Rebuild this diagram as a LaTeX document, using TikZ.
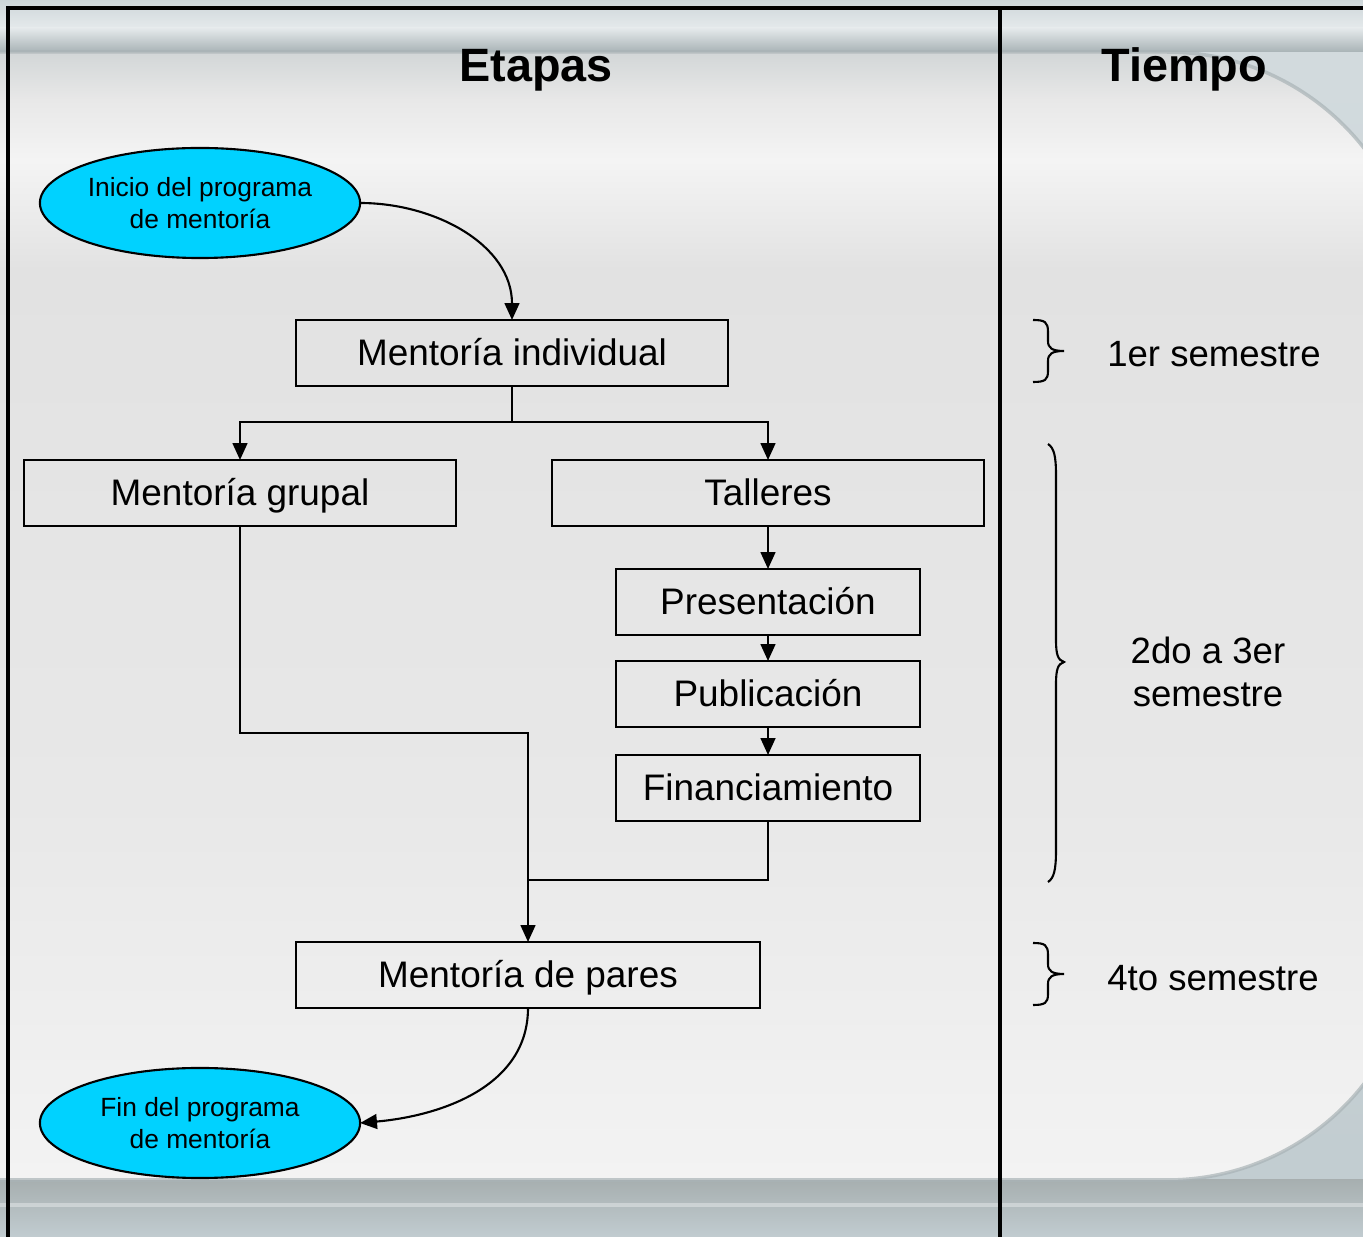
\documentclass[tikz,border=0pt]{standalone}
\usepackage{fontspec}
\setmainfont{Liberation Sans}
\usetikzlibrary{arrows.meta,shapes.geometric,positioning,calc}
\definecolor{cyanfill}{HTML}{00D2FF}
\definecolor{outerA}{HTML}{D3DBDE}
\definecolor{outerB}{HTML}{C1CCD0}
\definecolor{bandA}{HTML}{A7AFB0}
\definecolor{panelA}{HTML}{D2D6D7}
\definecolor{panelB}{HTML}{E8E8E8}
\definecolor{panelC}{HTML}{F4F4F4}
\definecolor{panelD}{HTML}{E2E2E2}
\definecolor{panelE}{HTML}{F3F3F3}
\definecolor{edgegray}{HTML}{A9B3B6}
\begin{document}
\begin{tikzpicture}[x=0.01cm,y=-0.01cm,
  every node/.style={inner sep=0pt,outer sep=0pt},
  stepbox/.style={draw=black,line width=0.6pt,rectangle,minimum height=0.66cm,text height=0.716em,text depth=0pt,font=\fontsize{10.5}{12.6}\selectfont},
  endell/.style={draw=black,line width=0.6pt,ellipse,fill=cyanfill,minimum width=3.2cm,minimum height=1.1cm,align=center,font=\fontsize{7.5}{9.1}\selectfont},
  titletxt/.style={font=\fontsize{13.3}{16}\selectfont\bfseries,anchor=base},
  timetxt/.style={font=\fontsize{10.4}{12}\selectfont,align=center},
  arr/.style={line width=0.6pt,-{Triangle[length=4.8pt,width=4.2pt]}},
  conn/.style={line width=0.6pt},
  bracestyle/.style={line width=0.6pt},
  frame/.style={line width=0.9pt,black}]
\useasboundingbox (0,0) rectangle (1363,1237);
% ---------- background ----------
\begin{scope}
\clip (0,0) rectangle (1363,1237);
\shade[top color=outerA,bottom color=outerB] (0,0) rectangle (1363,1237);
\shade[top color=outerB!80!white,bottom color=outerA!60!white] (0,0) rectangle (1363,28);
\shade[top color=outerA!60!white,bottom color=edgegray] (0,28) rectangle (1363,52);
\shade[top color=bandA,bottom color=outerB] (0,1180) rectangle (1363,1237);
\fill[white,opacity=0.35] (0,1203) rectangle (1363,1207);
\begin{scope}
\clip[rounded corners=2.5cm] (-300,52) rectangle (1417,1180);
\shade[top color=panelA,bottom color=panelB] (0,52) rectangle (1363,100);
\shade[top color=panelB,bottom color=panelC] (0,100) rectangle (1363,160);
\shade[top color=panelC,bottom color=panelD] (0,160) rectangle (1363,270);
\shade[top color=panelD,bottom color=panelB] (0,270) rectangle (1363,800);
\shade[top color=panelB,bottom color=panelE] (0,800) rectangle (1363,1180);
\end{scope}
\draw[edgegray,line width=1pt,opacity=0.7,rounded corners=2.5cm] (-300,52) rectangle (1417,1180);
\end{scope}
% ---------- frame ----------
\coordinate (fTL) at (8,8);
\coordinate (fTR) at (1363,8);
\coordinate (fBL) at (8,1237);
\coordinate (fMT) at (1000,8);
\coordinate (fMB) at (1000,1237);
\draw[frame] (fBL) -- (fTL) -- (fTR);
\draw[frame] (fMT) -- (fMB);
% ---------- titles ----------
\node[titletxt] (tEtapas) at (536,82) {Etapas};
\node[titletxt] (tTiempo) at (1184,82) {Tiempo};
% ---------- nodes ----------
\node[endell] (ini) at (200,203) {\rule{0pt}{1.2ex}Inicio del programa\\de mentoría};
\node[stepbox,minimum width=4.32cm] (mi) at (512,353) {Mentoría individual};
\node[stepbox,minimum width=4.32cm] (mg) at (240,493) {Mentoría grupal};
\node[stepbox,minimum width=4.32cm] (ta) at (768,493) {Talleres};
\node[stepbox,minimum width=3.04cm] (pr) at (768,602) {Presentación};
\node[stepbox,minimum width=3.04cm] (pu) at (768,694) {Publicación};
\node[stepbox,minimum width=3.04cm] (fi) at (768,788) {Financiamiento};
\node[stepbox,minimum width=4.64cm] (mp) at (528,975) {Mentoría de pares};
\node[endell] (fin) at (200,1123) {\rule{0pt}{1.2ex}Fin del programa\\de mentoría};
% ---------- connectors ----------
\coordinate (c1) at (0,733);
\coordinate (c2) at (0,880);
\draw[arr] (ini.east) to[out=0,in=90] (mi.north);
\draw[arr] (mi.south) -- ++(0,36) -| (mg.north);
\draw[arr] (mi.south) -- ++(0,36) -| (ta.north);
\draw[arr] (ta.south) -- (pr.north);
\draw[arr] (pr.south) -- (pu.north);
\draw[arr] (pu.south) -- (fi.north);
\draw[arr] (mg.south) -- (mg.south |- c1) -| (mp.north);
\draw[conn] (fi.south) |- (mp.north |- c2);
\draw[arr] (mp.south) to[out=-90,in=5] (fin.east);
% ---------- braces ----------
\draw[bracestyle] (1033,320) .. controls (1045,320) and (1048,322) .. (1048,332) -- (1048,341)
  .. controls (1048,348) and (1052,351) .. (1064,351)
  .. controls (1052,351) and (1048,354) .. (1048,361) -- (1048,371)
  .. controls (1048,380) and (1045,382) .. (1033,382);
\draw[bracestyle] (1048,444) .. controls (1054,448) and (1056,456) .. (1056,475) -- (1056,640)
  .. controls (1056,655) and (1058,660) .. (1064,662)
  .. controls (1058,664) and (1056,669) .. (1056,684) -- (1056,850)
  .. controls (1056,870) and (1054,878) .. (1048,882);
\draw[bracestyle] (1033,943) .. controls (1045,943) and (1048,945) .. (1048,955) -- (1048,964)
  .. controls (1048,971) and (1052,974) .. (1064,974)
  .. controls (1052,974) and (1048,977) .. (1048,984) -- (1048,994)
  .. controls (1048,1003) and (1045,1005) .. (1033,1005);
% ---------- time labels ----------
\node[timetxt,anchor=base] (s1) at (1214,367) {1er semestre};
\node[timetxt] (s2) at (1208,672) {2do a 3er\\semestre};
\node[timetxt,anchor=base] (s3) at (1213,991) {4to semestre};
\end{tikzpicture}
\end{document}
